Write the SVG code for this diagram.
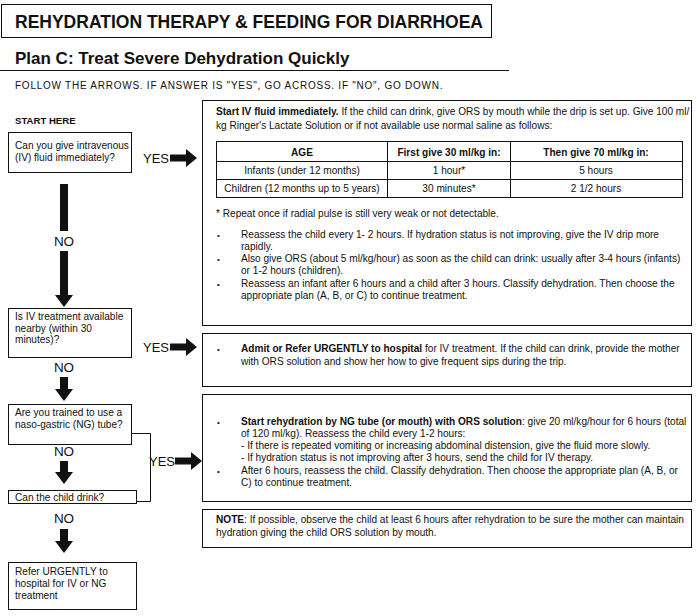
<svg xmlns="http://www.w3.org/2000/svg" width="697" height="616" viewBox="0 0 697 616">
<style>
text{font-family:"Liberation Sans",Arial,sans-serif;fill:#111}
.t{font-size:10.1px}
.b{font-weight:bold}
.c{text-anchor:middle}
.box{fill:#fff;stroke:#111;stroke-width:1}
.ln{fill:none;stroke:#111;stroke-width:1}
.lbl{font-size:13.5px}
.yes{font-size:13px}
.arr{fill:#111}
.bul{font-size:8px}
</style>
<defs>
<path id="yes" d="M0,-3.5H16V-9L27,0L16,9V3.5H0Z"/>
</defs>
<rect width="697" height="616" fill="#fff"/>

<g id="header">
<rect class="box" x="1.5" y="4.5" width="490" height="33"/>
<text x="15" y="27.5" class="b" style="font-size:17.5px">REHYDRATION THERAPY &amp; FEEDING FOR DIARRHOEA</text>
<text x="15" y="64" class="b" style="font-size:17px">Plan C: Treat Severe Dehydration Quickly</text>
<line class="ln" x1="0" y1="70.5" x2="509" y2="70.5"/>
<text x="15" y="89" style="font-size:10px;letter-spacing:0.75px">FOLLOW THE ARROWS. IF ANSWER IS "YES", GO ACROSS. IF "NO", GO DOWN.</text>
<text x="15" y="124" class="b" style="font-size:9.6px">START HERE</text>
</g>

<g id="q1">
<rect class="box" x="8.5" y="132.5" width="123" height="40"/>
<text class="t" x="15" y="148.5">Can you give intravenous</text>
<text class="t" x="15" y="160.5">(IV) fluid immediately?</text>
</g>

<g id="q2">
<rect class="box" x="8.5" y="308.5" width="123" height="49"/>
<text class="t" x="15" y="319.5">Is IV treatment available</text>
<text class="t" x="15" y="331.5">nearby (within 30</text>
<text class="t" x="15" y="343">minutes)?</text>
</g>

<g id="q3">
<rect class="box" x="8.5" y="404.5" width="123" height="40"/>
<text class="t" x="15" y="416">Are you trained to use a</text>
<text class="t" x="15" y="428">naso-gastric (NG) tube?</text>
</g>

<g id="q4">
<rect class="box" x="8.5" y="490.5" width="128" height="13"/>
<text class="t" x="15" y="501">Can the child drink?</text>
</g>

<g id="refer">
<rect class="box" x="8.5" y="562.5" width="128" height="47"/>
<text class="t" x="15" y="575">Refer URGENTLY to</text>
<text class="t" x="15" y="587">hospital for IV or NG</text>
<text class="t" x="15" y="598.5">treatment</text>
</g>

<g id="planIV">
<rect class="box" x="202.5" y="100.5" width="489" height="225"/>
<text class="t" x="216" y="114.5"><tspan class="b">Start IV fluid immediately.</tspan> If the child can drink, give ORS by mouth while the drip is set up. Give 100 ml/</text>
<text class="t" x="216" y="128.5">kg Ringer's Lactate Solution or if not available use normal saline as follows:</text>
<g id="table">
<rect class="ln" x="216.5" y="141.5" width="466" height="56"/>
<line class="ln" x1="216.5" y1="161.5" x2="682.5" y2="161.5"/>
<line class="ln" x1="216.5" y1="179.5" x2="682.5" y2="179.5"/>
<line class="ln" x1="387.5" y1="141.5" x2="387.5" y2="197.5"/>
<line class="ln" x1="510.5" y1="141.5" x2="510.5" y2="197.5"/>
<text class="t b c" x="302" y="155.5">AGE</text>
<text class="t b c" x="449" y="155.5">First give 30 ml/kg in:</text>
<text class="t b c" x="596" y="155.5">Then give 70 ml/kg in:</text>
<text class="t c" x="302" y="174">Infants (under 12 months)</text>
<text class="t c" x="449" y="174">1 hour*</text>
<text class="t c" x="596" y="174">5 hours</text>
<text class="t c" x="302" y="192">Children (12 months up to 5 years)</text>
<text class="t c" x="449" y="192">30 minutes*</text>
<text class="t c" x="596" y="192">2 1/2 hours</text>
</g>
<text class="t" x="216" y="217">* Repeat once if radial pulse is still very weak or not detectable.</text>
<text class="bul" x="217" y="237.5">•</text>
<text class="t" x="241" y="237.5">Reassess the child every 1- 2 hours. If hydration status is not improving, give the IV drip more</text>
<text class="t" x="241" y="249.5">rapidly.</text>
<text class="bul" x="217" y="262">•</text>
<text class="t" x="241" y="262">Also give ORS (about 5 ml/kg/hour) as soon as the child can drink: usually after 3-4 hours (infants)</text>
<text class="t" x="241" y="274">or 1-2 hours (children).</text>
<text class="bul" x="217" y="286.5">•</text>
<text class="t" x="241" y="286.5">Reassess an infant after 6 hours and a child after 3 hours. Classify dehydration. Then choose the</text>
<text class="t" x="241" y="298.5">appropriate plan (A, B, or C) to continue treatment.</text>
</g>

<g id="admit">
<rect class="box" x="202.5" y="333.5" width="489" height="53"/>
<text class="bul" x="217" y="351.5">•</text>
<text class="t" x="241" y="351.5"><tspan class="b">Admit or Refer URGENTLY to hospital</tspan> for IV treatment. If the child can drink, provide the mother</text>
<text class="t" x="241" y="364.5">with ORS solution and show her how to give frequent sips during the trip.</text>
</g>

<g id="ngtube">
<rect class="box" x="202.5" y="394.5" width="489" height="107"/>
<text class="bul" x="217" y="424.5">•</text>
<text class="t" x="241" y="424.5"><tspan class="b">Start rehydration by NG tube (or mouth) with ORS solution</tspan>: give 20 ml/kg/hour for 6 hours (total</text>
<text class="t" x="241" y="436.5">of 120 ml/kg). Reassess the child every 1-2 hours:</text>
<text class="t" x="241" y="449">- If there is repeated vomiting or increasing abdominal distension, give the fluid more slowly.</text>
<text class="t" x="241" y="461">- If hydration status is not improving after 3 hours, send the child for IV therapy.</text>
<text class="bul" x="217" y="473.5">•</text>
<text class="t" x="241" y="473.5">After 6 hours, reassess the child. Classify dehydration. Then choose the appropriate plan (A, B, or</text>
<text class="t" x="241" y="485.5">C) to continue treatment.</text>
</g>

<g id="note">
<rect class="box" x="202.5" y="509.5" width="489" height="38"/>
<text class="t" x="216" y="523"><tspan class="b">NOTE</tspan>: If possible, observe the child at least 6 hours after rehydration to be sure the mother can maintain</text>
<text class="t" x="216" y="535.5">hydration giving the child ORS solution by mouth.</text>
</g>

<g id="connectors">
<text class="yes" x="143" y="163">YES</text>
<use href="#yes" class="arr" x="170" y="158"/>
<text class="yes" x="143" y="352">YES</text>
<use href="#yes" class="arr" x="170" y="347"/>
<polyline class="ln" points="131.5,433.5 150.5,433.5 150.5,501.5 136.5,501.5"/>
<text class="yes" x="149" y="466">YES</text>
<use href="#yes" class="arr" x="175" y="461"/>

<rect class="arr" x="60" y="184" width="8" height="47"/>
<text class="lbl c" x="64" y="246">NO</text>
<path class="arr" d="M60,251H68V295H73L64,307L55,295H60Z"/>

<text class="lbl c" x="64" y="372">NO</text>
<path class="arr" d="M60,377H68V389H73L64,401L55,389H60Z"/>

<text class="lbl c" x="64" y="456">NO</text>
<path class="arr" d="M60,461H68V472H73L64,484L55,472H60Z"/>

<text class="lbl c" x="64" y="523">NO</text>
<path class="arr" d="M60,529H68V541H73L64,553L55,541H60Z"/>
</g>
</svg>
